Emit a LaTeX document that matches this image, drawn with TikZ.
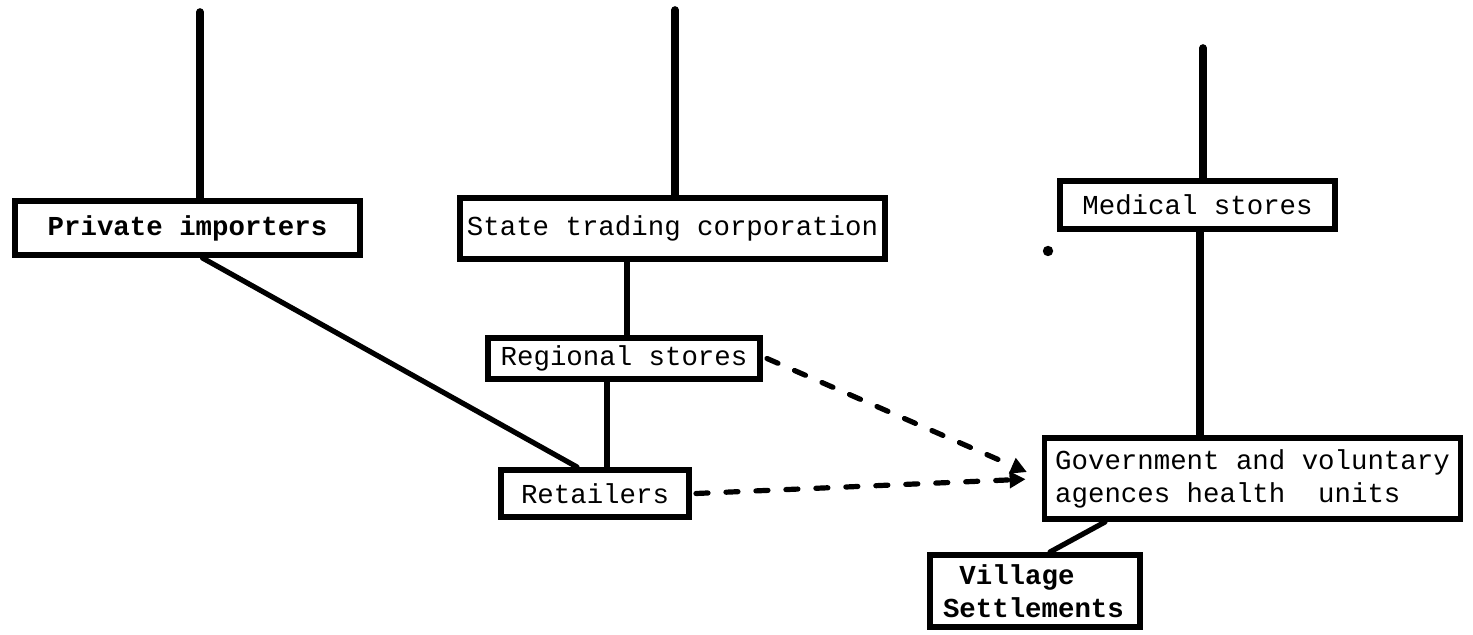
\documentclass[tikz,border=0pt]{standalone}
\usepackage{fontspec}
\setmonofont{Liberation Mono}
\usetikzlibrary{arrows.meta,calc}
\begin{document}
\begin{tikzpicture}[x=0.5pt,y=-0.5pt,
  box/.style={draw, line width=2.8pt, inner sep=0pt, font=\ttfamily\fontsize{13.7}{16.5}\selectfont, align=center},
  conn/.style={line width=2.6pt, line cap=round},
  stem/.style={line width=3.8pt, line cap=round},
  dashline/.style={line width=2.6pt, line cap=round, dash pattern=on 6pt off 9pt, shorten >=8pt, -{Triangle[length=8pt,width=8pt]}}]
\useasboundingbox (0,0) rectangle (1473,635);

\node[box, minimum width=172.7pt, minimum height=27.2pt] (priv) at (187.5,228) {\bfseries Private importers};
\node[box, minimum width=212.7pt, minimum height=30.7pt] (stc) at (672.5,228.5) {State trading corporation};
\node[box, minimum width=136.2pt, minimum height=20.7pt] (reg) at (624,358.5) {Regional stores};
\node[box, minimum width=94.2pt, minimum height=23.7pt] (ret) at (595,493.5) {Retailers};
\node[box, minimum width=137.7pt, minimum height=24.2pt] (med) at (1197.5,205) {Medical stores};
\node[box, minimum width=207.7pt, minimum height=40.7pt, inner xsep=5.4pt, align=left] (gov) at (1252.5,478.5) {Government and voluntary\\agences health\ \ units};
\node[box, minimum width=105.2pt, minimum height=36.2pt, inner xsep=6.6pt, text width=92pt, align=left] (vil) at (1035,591) {\bfseries\hspace*{8.2pt}Village\\Settlements};

\coordinate (t1) at (200,12);
\coordinate (t2) at (675,10);
\coordinate (t3) at (1203,48);
\draw[stem] (t1) -- (t1 |- priv.north);
\draw[stem] (t2) -- (t2 |- stc.north);
\draw[stem] (t3) -- (t3 |- med.north);

\draw[conn] ([xshift=7.5pt]priv.south) -- ([xshift=-9pt]ret.north);
\draw[conn] ([xshift=1.5pt]reg.north) -- ([xshift=1.5pt]reg.north |- stc.south);
\draw[conn] ([xshift=-8.5pt]reg.south) -- ([xshift=-8.5pt]reg.south |- ret.north);
\draw[stem] ([xshift=1.25pt]med.south) -- ([xshift=1.25pt]med.south |- gov.north);
\draw[conn] ([xshift=-73.75pt]gov.south) -- ([xshift=7.5pt]vil.north);

\draw[dashline] ([xshift=2pt]reg.east) -- (gov.west);
\draw[dashline] ([xshift=2pt]ret.east) -- (gov.west);

\fill (1048,251) circle (2.6pt);
\end{tikzpicture}
\end{document}
